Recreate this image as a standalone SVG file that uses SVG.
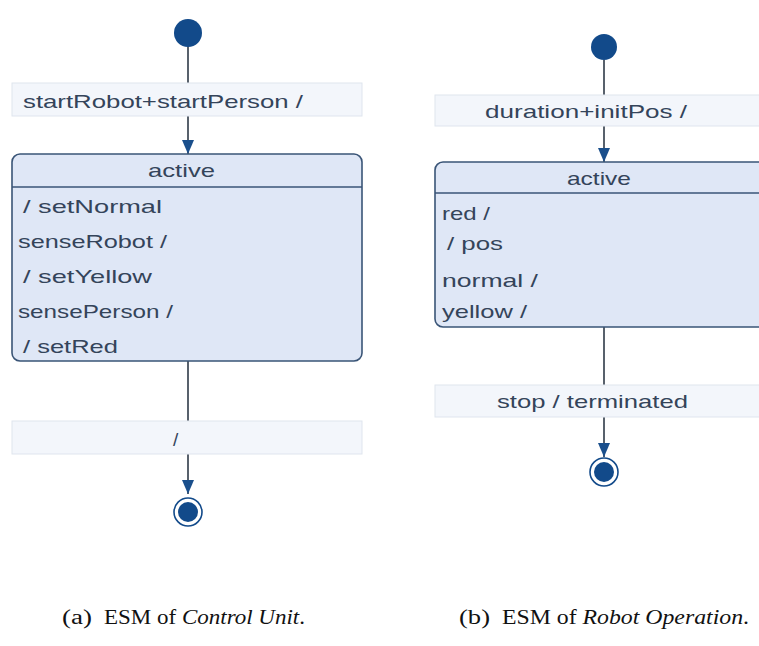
<svg xmlns="http://www.w3.org/2000/svg" width="759" height="646" viewBox="0 0 759 646">
<style>
.t{font-family:"Liberation Sans","DejaVu Sans",sans-serif;font-size:19px;fill:#34445a}
.cap{font-family:"Liberation Serif","Times New Roman",serif;font-size:20px;fill:#111}
.lbl{fill:#f3f6fb;stroke:#dfe5ee;stroke-width:1}
.state{fill:#dfe7f6;stroke:#3a5577;stroke-width:1.6}
.hdr{stroke:#3a5577;stroke-width:1.4}
.edge{stroke:#46505c;stroke-width:1.8;fill:none}
.init{fill:#124a8a}
.fin{fill:#124a8a}
.finr{fill:#ffffff;stroke:#124a8a;stroke-width:1.6}
</style>
<defs>
<marker id="arr" viewBox="0 0 14 12" refX="14" refY="6" markerWidth="14" markerHeight="12" markerUnits="userSpaceOnUse" orient="auto">
<path d="M0,0 L14,6 L0,12 Z" fill="#1a4f8c"/>
</marker>
</defs>
<rect width="759" height="646" fill="#ffffff"/>

<g id="connectors">
<line class="edge" x1="188" y1="46" x2="188" y2="83"/>
<line class="edge" x1="188" y1="116" x2="188" y2="154" marker-end="url(#arr)"/>
<line class="edge" x1="188" y1="361" x2="188" y2="421"/>
<line class="edge" x1="188" y1="454" x2="188" y2="494" marker-end="url(#arr)"/>
<line class="edge" x1="604" y1="60" x2="604" y2="95"/>
<line class="edge" x1="604" y1="126" x2="604" y2="162" marker-end="url(#arr)"/>
<line class="edge" x1="604" y1="327" x2="604" y2="385"/>
<line class="edge" x1="604" y1="417" x2="604" y2="457" marker-end="url(#arr)"/>
</g>

<g id="a-initial"><circle class="init" cx="188" cy="33" r="14"/></g>
<g id="a-label1">
<rect class="lbl" x="12" y="83" width="350" height="33"/>
<text class="t" x="23" y="108" textLength="280" lengthAdjust="spacingAndGlyphs">startRobot+startPerson /</text>
</g>
<g id="a-active">
<rect class="state" x="12" y="154" width="350" height="207" rx="8"/>
<line class="hdr" x1="12" y1="187" x2="362" y2="187"/>
<text class="t" x="148" y="177" textLength="67" lengthAdjust="spacingAndGlyphs">active</text>
<text class="t" x="23" y="213" textLength="139" lengthAdjust="spacingAndGlyphs">/ setNormal</text>
<text class="t" x="18" y="248" textLength="149" lengthAdjust="spacingAndGlyphs">senseRobot /</text>
<text class="t" x="23" y="283" textLength="129" lengthAdjust="spacingAndGlyphs">/ setYellow</text>
<text class="t" x="18" y="318" textLength="155" lengthAdjust="spacingAndGlyphs">sensePerson /</text>
<text class="t" x="23" y="353" textLength="95" lengthAdjust="spacingAndGlyphs">/ setRed</text>
</g>
<g id="a-label2">
<rect class="lbl" x="12" y="421" width="350" height="33"/>
<text class="t" x="173" y="446">/</text>
</g>
<g id="a-final">
<circle class="finr" cx="188" cy="512" r="14"/>
<circle class="fin" cx="188" cy="512" r="10"/>
</g>

<g id="b-initial"><circle class="init" cx="604" cy="47" r="13"/></g>
<g id="b-label1">
<rect class="lbl" x="435" y="95" width="340" height="31"/>
<text class="t" x="485" y="118" textLength="202" lengthAdjust="spacingAndGlyphs">duration+initPos /</text>
</g>
<g id="b-active">
<rect class="state" x="435" y="162" width="345" height="165" rx="8"/>
<line class="hdr" x1="435" y1="193" x2="759" y2="193"/>
<text class="t" x="567" y="185" textLength="64" lengthAdjust="spacingAndGlyphs">active</text>
<text class="t" x="442" y="220" textLength="48" lengthAdjust="spacingAndGlyphs">red /</text>
<text class="t" x="447" y="250" textLength="56" lengthAdjust="spacingAndGlyphs">/ pos</text>
<text class="t" x="442" y="287" textLength="96" lengthAdjust="spacingAndGlyphs">normal /</text>
<text class="t" x="442" y="318" textLength="85" lengthAdjust="spacingAndGlyphs">yellow /</text>
</g>
<g id="b-label2">
<rect class="lbl" x="435" y="385" width="340" height="32"/>
<text class="t" x="497" y="408" textLength="191" lengthAdjust="spacingAndGlyphs">stop / terminated</text>
</g>
<g id="b-final">
<circle class="finr" cx="604" cy="472" r="14"/>
<circle class="fin" cx="604" cy="472" r="10"/>
</g>

<g id="captions">
<text class="cap" x="62" y="624" textLength="30" lengthAdjust="spacingAndGlyphs">(a)</text>
<text class="cap" x="104" y="624" textLength="201" lengthAdjust="spacingAndGlyphs">ESM of <tspan font-style="italic">Control Unit</tspan>.</text>
<text class="cap" x="459" y="624" textLength="31" lengthAdjust="spacingAndGlyphs">(b)</text>
<text class="cap" x="502" y="624" textLength="247" lengthAdjust="spacingAndGlyphs">ESM of <tspan font-style="italic">Robot Operation</tspan>.</text>
</g>
</svg>
